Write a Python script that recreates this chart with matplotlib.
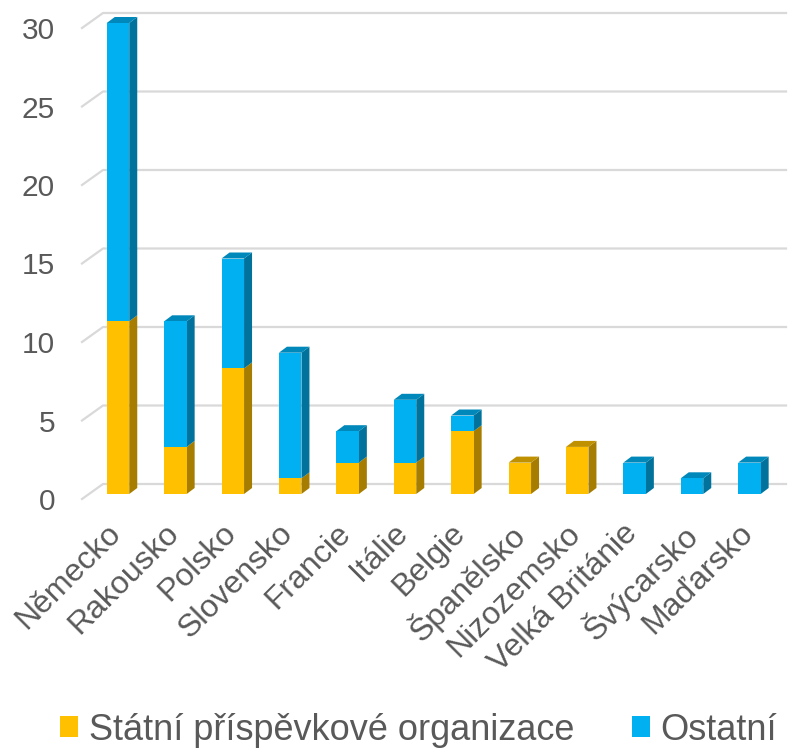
import matplotlib
matplotlib.use("Agg")
import matplotlib.pyplot as plt
import matplotlib.transforms as mtransforms
from matplotlib.patches import Polygon, Patch
from matplotlib.lines import Line2D

plt.rcParams['font.family'] = ['Liberation Sans', 'DejaVu Sans']

categories = ["Německo", "Rakousko", "Polsko", "Slovensko", "Francie", "Itálie",
              "Belgie", "Španělsko", "Nizozemsko", "Velká Británie", "Švýcarsko", "Maďarsko"]
statni = [11, 3, 8, 1, 2, 2, 4, 2, 3, 0, 0, 0]
ostatni = [19, 8, 7, 8, 2, 4, 1, 0, 0, 2, 1, 2]
yticks = [0, 5, 10, 15, 20, 25, 30]
series_names = ["Státní příspěvkové organizace", "Ostatní"]

front = ["#FFC000", "#00B0F0"]
side = ["#A67D00", "#00729C"]
top = ["#BF9000", "#0088BA"]
grid_c = "#D9D9D9"
text_c = "#595959"

W, H, DPI = 788, 753, 100
fig = plt.figure(figsize=(W / DPI, H / DPI), dpi=DPI)

# axes geometry in pixels
L_px, R_px = 82, 786
B_px, T_px = 494, 23
spacing = 57.4
first_c = 118
ax = fig.add_axes([L_px / W, (H - B_px) / H, (R_px - L_px) / W, (B_px - T_px) / H])
x0 = (L_px - first_c) / spacing
x1 = (R_px - first_c) / spacing
ax.set_xlim(x0, x1)
ax.set_ylim(0, 30)

pxx = (R_px - L_px) / (x1 - x0)   # px per x unit
pxy = (B_px - T_px) / 30.0        # px per y unit
ddx = 8 / pxx
ddy = 6 / pxy
bw = 22.5 / spacing

# 3D-like gridlines
for v in yticks:
    xs = [x0, x0 + 21 / pxx, x0 + (786 - L_px) / pxx]
    ys = [v - 5 / pxy, v + 10 / pxy, v + 10 / pxy]
    ax.add_line(Line2D(xs, ys, color=grid_c, lw=1.6, zorder=0, clip_on=False))

xpos = list(range(len(categories)))
for i in xpos:
    segs = [(0, statni[i], 0), (statni[i], statni[i] + ostatni[i], 1)]
    segs = [s for s in segs if s[1] > s[0]]
    for k, (y0, y1, si) in enumerate(segs):
        ax.bar(i, y1 - y0, bottom=y0, width=bw, color=front[si], zorder=3,
               linewidth=0)
        xr = i + bw / 2
        xl = i - bw / 2
        ax.add_patch(Polygon([(xr, y0), (xr + ddx, y0 + ddy), (xr + ddx, y1 + ddy), (xr, y1)],
                             closed=True, facecolor=side[si], edgecolor='none', zorder=2,
                             clip_on=False))
        if k == len(segs) - 1:
            ax.add_patch(Polygon([(xl, y1), (xl + ddx, y1 + ddy), (xr + ddx, y1 + ddy), (xr, y1)],
                                 closed=True, facecolor=top[si], edgecolor='none', zorder=2,
                                 clip_on=False))

for s in ax.spines.values():
    s.set_visible(False)

ax.set_yticks(yticks)
ax.set_yticklabels([str(v) for v in yticks], fontsize=21.5, color=text_c)
ax.tick_params(axis='y', length=0, pad=27 * 72 / DPI)
shift = mtransforms.ScaledTranslation(0, -5 / DPI, fig.dpi_scale_trans)
for lab in ax.get_yticklabels():
    lab.set_transform(lab.get_transform() + shift)

ax.set_xticks(xpos)
ax.set_xticklabels(categories, rotation=45, ha='right', va='top', rotation_mode='anchor',
                   fontsize=23, color=text_c)
ax.tick_params(axis='x', length=0, pad=24 * 72 / DPI)
xshift = mtransforms.ScaledTranslation(-12 / DPI, 0, fig.dpi_scale_trans)
for lab in ax.get_xticklabels():
    lab.set_transform(lab.get_transform() + xshift)

handles = [Patch(facecolor=front[0], edgecolor='none'), Patch(facecolor=front[1], edgecolor='none')]
fig.legend(handles, series_names, loc='center', bbox_to_anchor=(0.531, 1 - 730 / H), ncol=2,
           frameon=False, fontsize=26, handlelength=0.5, handleheight=0.5,
           handletextpad=0.3, columnspacing=1.6, labelcolor=text_c)

fig.savefig("out.png", dpi=DPI)
